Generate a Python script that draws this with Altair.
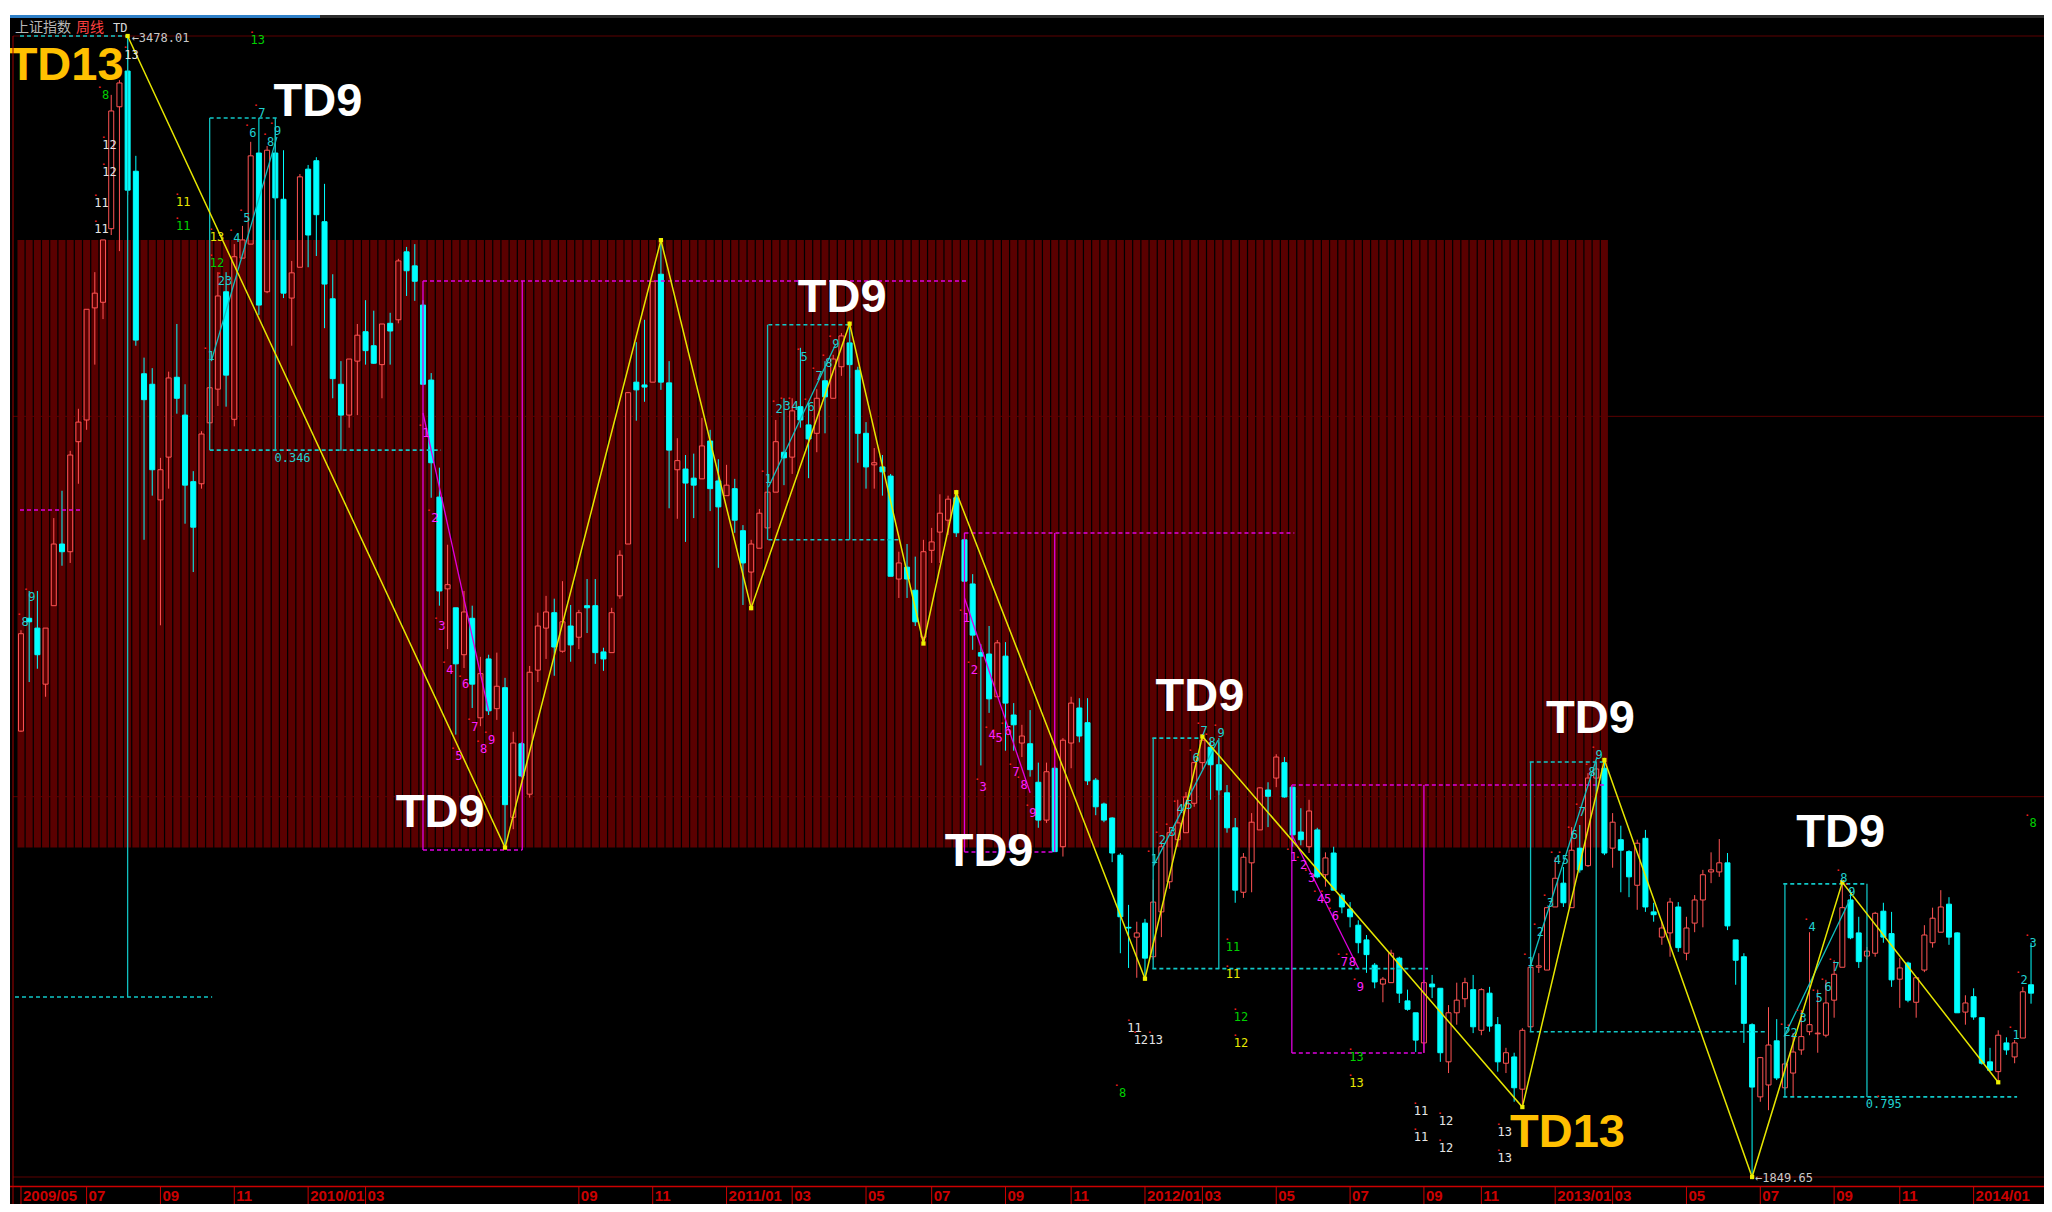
import altair as alt
import pandas as pd

# ---------------- weekly candles: 上证指数 周线 (index 0 = first week of 2009/05) ----------------
opens = [2486, 2647, 2633, 2553, 2665, 2753, 2742, 2899, 2930, 3090,
         3098, 3203, 3377, 3428, 3285, 2996, 2981, 2816, 2877, 2991,
         2937, 2842, 2839, 2926, 2974, 3113, 2931, 3161, 3181, 3311,
         3113, 3311, 3245, 3104, 3148, 3288, 3300, 3213, 3103, 2981,
         2937, 3014, 3056, 3036, 3009, 3068, 3073, 3170, 3150, 3094,
         2987, 2820, 2689, 2662, 2595, 2647, 2505, 2589, 2518, 2548,
         2363, 2468, 2396, 2573, 2633, 2655, 2600, 2636, 2620, 2665,
         2665, 2599, 2598, 2679, 2753, 2984, 2980, 2984, 3138, 2983,
         2859, 2860, 2847, 2846, 2900, 2843, 2822, 2832, 2772, 2713,
         2747, 2776, 2827, 2884, 2877, 2949, 2923, 2911, 2986, 2961,
         3006, 3040, 3001, 2911, 2866, 2863, 2850, 2703, 2720, 2687,
         2620, 2744, 2770, 2787, 2819, 2759, 2696, 2598, 2596, 2535,
         2593, 2509, 2469, 2468, 2413, 2359, 2433, 2321, 2469, 2519,
         2498, 2416, 2382, 2362, 2309, 2206, 2192, 2212, 2164, 2228,
         2271, 2331, 2341, 2383, 2441, 2463, 2438, 2398, 2348, 2256,
         2298, 2345, 2402, 2419, 2441, 2406, 2342, 2321, 2345, 2281,
         2312, 2252, 2232, 2209, 2188, 2152, 2125, 2127, 2162, 2101,
         2084, 2041, 2125, 2119, 2014, 2084, 2104, 2117, 2059, 2112,
         2067, 2012, 2021, 1975, 2064, 2149, 2145, 2235, 2269, 2234,
         2319, 2294, 2419, 2433, 2319, 2331, 2314, 2266, 2333, 2228,
         2192, 2198, 2235, 2169, 2212, 2245, 2285, 2285, 2298, 2188,
         2164, 2067, 1964, 1981, 2044, 1977, 1998, 2031, 2057, 2054,
         2052, 2102, 2149, 2245, 2198, 2165, 2169, 2229, 2197, 2132,
         2155, 2099, 2145, 2184, 2199, 2239, 2198, 2085, 2107, 2077,
         2014, 2000, 2041, 2021, 2048, 2124]
highs = [2630, 2686, 2686, 2633, 2790, 2829, 2886, 2946, 3088, 3141,
         3187, 3394, 3415, 3478.01, 3307, 3019, 3004, 2876, 2999, 3067,
         2981, 2857, 2914, 2987, 3141, 3141, 3181, 3207, 3327, 3361,
         3321, 3348, 3315, 3157, 3281, 3294, 3305, 3267, 3138, 3014,
         3017, 3067, 3101, 3086, 3067, 3083, 3160, 3177, 3181, 3101,
         2997, 2862, 2752, 2662, 2686, 2665, 2592, 2595, 2598, 2562,
         2485, 2470, 2579, 2655, 2679, 2675, 2700, 2666, 2659, 2703,
         2703, 2605, 2662, 2744, 2970, 3041, 3073, 3128, 3186.72, 3014,
         2904, 2880, 2882, 2933, 2916, 2874, 2866, 2846, 2780, 2759,
         2803, 2856, 2930, 2961, 2961, 3033, 2956, 2974, 3014, 3023,
         3054, 3067.46, 3006, 2927, 2890, 2880, 2853, 2742, 2753, 2735,
         2759, 2776, 2824, 2822, 2826.96, 2769, 2710, 2610, 2636, 2616,
         2613, 2526, 2495, 2516, 2441, 2441, 2436, 2476, 2535, 2533,
         2533, 2419, 2384, 2363, 2312, 2238, 2214, 2218, 2274, 2328,
         2349, 2388, 2399, 2442, 2478.38, 2470, 2470, 2409, 2362, 2312,
         2369, 2406, 2413, 2453, 2449, 2406, 2376, 2388, 2348, 2313,
         2321, 2255, 2242, 2216, 2195, 2155, 2135, 2174, 2164, 2117,
         2084, 2131, 2138, 2119, 2095, 2127, 2134, 2138, 2119, 2121,
         2078, 2034, 2027, 2062, 2149, 2169, 2234, 2306, 2292, 2349,
         2352, 2426, 2441, 2444.80, 2369, 2351, 2316, 2331, 2345, 2241,
         2214, 2248, 2242, 2221, 2252, 2288, 2313, 2332, 2312, 2188,
         2169, 2069, 2021, 2092, 2075, 2055, 2055, 2088, 2199, 2117,
         2131, 2159, 2270.27, 2259, 2221, 2178, 2228, 2241, 2228, 2162,
         2157, 2135, 2209, 2234, 2259, 2249, 2199, 2109, 2119, 2077,
         2034, 2059, 2049, 2045, 2121, 2184]
lows = [2485, 2556, 2575, 2535, 2665, 2722, 2726, 2839, 2916, 3009,
        3074, 3194, 3171, 3251, 3036, 2759, 2822, 2637, 2832, 2939,
        2782, 2713, 2832, 2916, 2950, 2949, 2921, 3161, 3181, 3080,
        3111, 3244, 3104, 3036, 3148, 3148, 3164, 3061, 2961, 2886,
        2919, 2937, 3009, 3010, 2961, 3009, 3068, 3107, 3100, 2981,
        2819, 2665, 2603, 2481, 2576, 2519, 2493, 2509, 2502, 2319.74,
        2346, 2420, 2391, 2556, 2589, 2565, 2598, 2585, 2603, 2626,
        2582, 2572, 2598, 2675, 2753, 2929, 2956, 2984, 2973, 2804,
        2789, 2756, 2790, 2846, 2800, 2719, 2822, 2769, 2666, 2661.45,
        2747, 2776, 2827, 2837, 2853, 2919, 2847, 2884, 2911, 2961,
        2993, 2990, 2869, 2832, 2832, 2822, 2707, 2676, 2676, 2636,
        2610.99, 2726, 2726, 2766, 2763, 2700, 2602, 2437, 2512, 2535,
        2458, 2458, 2449, 2421, 2348, 2355, 2314, 2307, 2433, 2470,
        2409, 2366, 2356, 2299, 2169, 2148, 2134, 2132.63, 2160, 2192,
        2261, 2321, 2341, 2378, 2431, 2388, 2395, 2341, 2241, 2248,
        2256, 2345, 2349, 2406, 2391, 2321, 2323, 2312, 2276, 2264,
        2259, 2226, 2206, 2169, 2141, 2119, 2099, 2127, 2098, 2087,
        2028, 2027, 2105, 2014, 1998, 2067, 2092, 2055, 2052, 2057,
        2000, 1998, 1957, 1949.46, 2057, 2141, 2145, 2235, 2235, 2234,
        2284, 2292, 2408, 2309, 2291, 2256, 2249, 2231, 2228, 2214,
        2181, 2164, 2171, 2159, 2199, 2206, 2269, 2278, 2202, 2124,
        2041, 1849.65, 1957, 1945, 1988, 1974, 1964, 2024, 2052, 2027,
        2049, 2077, 2149, 2189, 2148, 2160, 2164, 2184, 2121, 2091,
        2099, 2077, 2142, 2177, 2199, 2181, 2084, 2067, 2074, 2010,
        2000, 1984.8, 2024, 2012, 2048, 2097]
closes = [2625, 2642, 2595, 2633, 2753, 2742, 2880, 2927, 3088, 3111,
          3187, 3371, 3411, 3258, 3044, 2959, 2859, 2859, 2990, 2961,
          2837, 2777, 2910, 2976, 3107, 2994, 3163, 3187, 3307, 3094,
          3315, 3247, 3111, 3140, 3277, 3194, 3223, 3124, 2989, 2937,
          3017, 3051, 3029, 3011, 3067, 3057, 3157, 3143, 3128, 2981,
          2869, 2686, 2695, 2582, 2656, 2553, 2568, 2515, 2550, 2381,
          2469, 2422, 2570, 2636, 2656, 2606, 2642, 2609, 2655, 2662,
          2598, 2589, 2655, 2737, 2969, 2973, 2977, 3128, 2984, 2887,
          2872, 2840, 2837, 2893, 2832, 2806, 2837, 2787, 2726, 2753,
          2797, 2827, 2899, 2876, 2943, 2930, 2903, 2961, 2963, 3017,
          3050, 3009, 2911, 2863, 2869, 2856, 2707, 2726, 2703, 2642,
          2742, 2756, 2797, 2817, 2769, 2700, 2623, 2593, 2532, 2612,
          2526, 2495, 2479, 2431, 2359, 2428, 2314, 2473, 2526, 2479,
          2415, 2378, 2359, 2312, 2221, 2205, 2198, 2162, 2242, 2321,
          2341, 2355, 2392, 2441, 2473, 2438, 2402, 2348, 2259, 2306,
          2356, 2405, 2393, 2449, 2392, 2338, 2331, 2372, 2278, 2305,
          2259, 2235, 2221, 2184, 2167, 2128, 2132, 2169, 2112, 2089,
          2045, 2127, 2121, 2027, 2084, 2102, 2127, 2064, 2117, 2065,
          2014, 2027, 1977, 2059, 2149, 2151, 2234, 2276, 2241, 2316,
          2288, 2419, 2432, 2312, 2356, 2316, 2278, 2326, 2235, 2224,
          2205, 2242, 2177, 2205, 2245, 2281, 2288, 2298, 2208, 2159,
          2069, 1978, 2020, 2038, 1991, 2011, 2028, 2050, 2067, 2055,
          2098, 2139, 2234, 2191, 2157, 2172, 2226, 2192, 2131, 2148,
          2102, 2134, 2195, 2219, 2235, 2192, 2084, 2098, 2078, 2012,
          2002, 2052, 2031, 2041, 2114, 2112]

# bottom time axis (first week of each labelled month)
tick_idx = [0, 8, 17, 26, 35, 42, 68, 77, 86, 94, 103, 111, 120, 128, 137,
            144, 153, 162, 171, 178, 187, 194, 203, 212, 221, 229, 238]
tick_lab = ["2009/05", "07", "09", "11", "2010/01", "03", "09", "11", "2011/01", "03",
            "05", "07", "09", "11", "2012/01", "03", "05", "07", "09", "11",
            "2013/01", "03", "05", "07", "09", "11", "2014/01"]

# zig-zag pivots (candle index, high/low)
pivot_idx = [13, 59, 78, 89, 101, 110, 114, 137, 144, 183, 193, 211, 222, 241]
pivot_hl = ["H", "L", "H", "L", "H", "L", "H", "L", "H", "L", "H", "L", "H", "L"]

# shaded band (2010 range)
shade_lo = 2319.74
shade_hi = 3186.72
shade_last = 193

grid_prices = [3478.01, 2935.22, 2392.43, 1849.65]

# TD lines: solid (verticals and setup trend lines)
sol_kind = ["c"] * 16 + ["m"] * 9
sol_x1 = [13, 23, 31, 91, 101, 138, 146, 184, 192, 215, 225, 23.2, 91.1, 138, 183.9, 214.9,
          49, 61.1, 115, 126, 154.9, 171, 49, 115, 154.9]
sol_p1 = [3478.01, 3361, 3361, 3066, 3066, 2476, 2476, 2442, 2442, 2268, 2268, 3014, 2834, 2293, 2148, 2050,
          3128.4, 3128.4, 2768.7, 2768.7, 2409.1, 2409.1, 2940, 2676, 2338]
sol_x2 = [13, 23, 31, 91, 101, 138, 146, 184, 192, 215, 225, 31.2, 99.3, 145.9, 192.1, 222.9,
          49, 61.1, 115, 126, 154.9, 171, 57, 123, 163]
sol_p2 = [2106.6, 2887, 2887, 2759, 2759, 2147, 2147, 2057, 2057, 1964, 1964, 3334, 3038, 2473, 2449, 2245,
          2316.3, 2316.3, 2313.5, 2313.5, 2026.6, 2026.6, 2515, 2398, 2148]

# TD lines: dashed horizontals
dsh_kind = ["c"] * 12 + ["m"] * 7
dsh_x1 = [-0.12, -0.73, 23, 23, 91.1, 91.1, 137.9, 137.9, 183.9, 183.9, 214.8, 214.8,
          -0.12, 49, 49, 115, 115, 154.9, 154.9]
dsh_x2 = [13, 23.3, 31.2, 51.2, 100.9, 107, 144, 171.5, 193, 212.6, 225, 243.3,
          7.4, 115.2, 61.1, 155.2, 126, 193, 171]
dsh_p = [3478.01, 2106.6, 3361, 2887, 3066, 2759, 2476, 2147, 2442, 2057, 2268, 1964,
         2801.6, 3128.4, 2316.3, 2768.7, 2313.5, 2409.1, 2026.6]

# small TD count labels
cnt_text = ["13", "8", "12", "12", "13", "7", "6", "8", "9", "11", "11", "11", "11", "13", "12", "23", "4", "5", "1",
            "9", "8",
            "1", "2", "3", "4", "5", "6", "7", "8", "9",
            "1", "2", "3", "4", "5", "6", "7", "8", "9",
            "1", "2", "3", "4", "5", "6", "7", "8", "9",
            "1", "2", "3", "4", "5", "6", "7", "8", "9",
            "11", "11", "12", "12", "11", "12", "13", "8",
            "1", "2", "3", "4", "5", "6", "7", "8", "9", "13", "13",
            "11", "11", "12", "12", "13", "13",
            "1", "2", "3", "4", "5", "6", "7", "8", "9",
            "2", "2", "3", "4", "5", "6", "7", "8", "9",
            "1", "2", "3", "8", "0.346", "0.795"]
cnt_x = [13.46, 10.31, 10.79, 10.79, 28.87, 29.35, 28.26, 30.44, 31.29, 9.82, 9.82, 19.77, 19.77, 23.89, 23.89, 24.86, 26.32, 27.53, 23.17,
         1.33, 0.49,
         49.36, 50.45, 51.30, 52.27, 53.37, 54.21, 55.31, 56.40, 57.37,
         91.09, 92.42, 93.39, 94.36, 95.45, 96.30, 97.27, 98.48, 99.33,
         115.22, 116.19, 117.28, 118.37, 119.22, 120.32, 121.29, 122.26, 123.35,
         138.14, 139.11, 140.33, 141.30, 142.39, 143.24, 144.21, 145.18, 146.27,
         147.73, 147.73, 148.70, 148.70, 135.72, 136.5, 138.3, 134.26,
         155.12, 156.34, 157.31, 158.40, 159.25, 160.22, 161.31, 162.28, 163.25, 162.77, 162.77,
         170.65, 170.65, 173.68, 173.68, 180.84, 180.84,
         183.99, 185.20, 186.42, 187.27, 188.24, 189.33, 190.30, 191.51, 192.36,
         215.28, 216.13, 217.22, 218.31, 219.16, 220.26, 221.23, 222.20, 223.17,
         243.18, 244.15, 245.24, 245.24, 33.1, 227.05]
cnt_p = [3450.9, 3393.8, 3322.5, 3283.9, 3472.3, 3368.1, 3339.6, 3326.7, 3342.4, 3239.7, 3202.6, 3241.1, 3206.9, 3191.2, 3154.1, 3128.4, 3189.7, 3218.3, 3021.3,
         2677.4, 2641.7,
         2911.4, 2790.1, 2636.0, 2573.2, 2450.5, 2553.2, 2491.9, 2460.5, 2473.3,
         2845.8, 2945.7, 2950.0, 2950.0, 3019.9, 2948.5, 2992.8, 3011.3, 3038.5,
         2647.4, 2573.2, 2406.2, 2480.4, 2476.2, 2486.1, 2427.6, 2409.1, 2369.1,
         2303.5, 2330.6, 2342.0, 2374.8, 2380.6, 2447.6, 2486.1, 2470.5, 2483.3,
         2177.9, 2139.4, 2078.0, 2040.9, 2062.3, 2045.2, 2045.2, 1969.6,
         2306.3, 2294.9, 2276.4, 2246.4, 2246.4, 2222.1, 2156.5, 2156.5, 2120.8, 2020.9, 1983.8,
         1943.8, 1906.7, 1929.6, 1891.0, 1913.8, 1876.8,
         2156.5, 2199.3, 2240.7, 2302.0, 2302.0, 2337.7, 2370.5, 2427.6, 2451.9,
         2056.6, 2055.2, 2076.6, 2206.5, 2105.1, 2120.8, 2149.4, 2276.4, 2256.4,
         2052.3, 2130.8, 2183.6, 2354.9, 2875.8, 1953.8]
cnt_k = ["w", "g", "w", "w", "g", "c", "c", "c", "c", "w", "w", "y", "g", "y", "g", "c", "c", "c", "c",
         "c", "c",
         "m", "m", "m", "m", "m", "m", "m", "m", "m",
         "c", "c", "c", "c", "c", "c", "c", "c", "c",
         "m", "m", "m", "m", "m", "m", "m", "m", "m",
         "c", "c", "c", "c", "c", "c", "c", "c", "c",
         "g", "y", "g", "y", "w", "w", "w", "g",
         "m", "m", "m", "m", "m", "m", "m", "m", "m", "g", "y",
         "w", "w", "w", "w", "w", "w",
         "c", "c", "c", "c", "c", "c", "c", "c", "c",
         "c", "c", "c", "c", "c", "c", "c", "c", "c",
         "c", "c", "c", "g", "c", "c"]

# big annotations
big_text = ["TD13", "TD9", "TD9", "TD9", "TD9", "TD9", "TD9", "TD9", "TD13"]
big_x = [5.5, 36.2, 51.1, 100.1, 118.0, 143.7, 191.3, 221.8, 188.5]
big_p = [3435, 3384, 2369, 3104, 2314, 2535, 2503, 2341, 1912]
big_k = ["o", "w", "w", "w", "w", "w", "w", "w", "o"]

# ---------------- styling ----------------
RED = "#ff5454"
CYAN = "#00ffff"
AX_RED = "#cc0000"
W, H = 2034, 1169
xs = alt.Scale(domain=[-0.728, 245.97], nice=False, zero=False)
ys = alt.Scale(domain=[1835.38, 3503.70], nice=False, zero=False)


def X(f):
    return alt.X(f"{f}:Q", scale=xs, axis=None, title=None)


def Y(f):
    return alt.Y(f"{f}:Q", scale=ys, axis=None, title=None)


df = pd.DataFrame({"i": range(len(opens)), "o": opens, "h": highs, "l": lows, "c": closes})
df["top"] = df[["o", "c"]].max(axis=1)
df["bot"] = df[["o", "c"]].min(axis=1)
up = "datum.c >= datum.o"

one = pd.DataFrame({"a": [0]})
frame = alt.layer(
    alt.Chart(one).mark_rect(color="white").encode(x=alt.value(-2), x2=alt.value(W), y=alt.value(-10), y2=alt.value(-3)),
    alt.Chart(one).mark_rect(color="white").encode(x=alt.value(-2), x2=alt.value(0), y=alt.value(-10), y2=alt.value(H + 17)),
    alt.Chart(one).mark_rect(color="#2f80c8").encode(x=alt.value(0), x2=alt.value(310), y=alt.value(-3), y2=alt.value(0)),
    alt.Chart(one).mark_rect(color="#2c2c2c").encode(x=alt.value(310), x2=alt.value(W), y=alt.value(-3), y2=alt.value(0)),
    alt.Chart(one).mark_rule(color="#a00000").encode(x=alt.value(3), y=alt.value(18), y2=alt.value(H + 17)),
    alt.Chart(one).mark_rule(color=AX_RED, strokeWidth=1.5).encode(x=alt.value(0), x2=alt.value(W),
                                                                   y=alt.value(H - 0.5)),
)

# time axis drawn as ticks + labels below the plot
tick_df = pd.DataFrame({"i": tick_idx, "t": tick_lab})
ax_ticks = alt.Chart(tick_df).mark_rule(color=AX_RED, strokeWidth=1).encode(
    x=X("i"), y=alt.value(H - 0.5), y2=alt.value(H + 17))
ax_labels = alt.Chart(tick_df).mark_text(font="Liberation Sans", fontWeight="bold", fontSize=15,
                                         color=AX_RED, align="left", baseline="bottom", dx=2).encode(
    x=X("i"), y=alt.value(H + 16.5), text="t:N")

shade_df = pd.DataFrame({"i": range(shade_last + 1), "lo": shade_lo, "hi": shade_hi})
shade = alt.Chart(shade_df).mark_bar(size=7, color="#5a0000").encode(x=X("i"), y=Y("lo"), y2="hi")

grid = alt.Chart(pd.DataFrame({"p": grid_prices})).mark_rule(color="#5c0000", strokeWidth=1).encode(
    x=alt.value(3), x2=alt.value(W), y=Y("p"))

color_cond = alt.condition(up, alt.value(RED), alt.value(CYAN))
wick_hi = alt.Chart(df).mark_rule(strokeWidth=1).encode(x=X("i"), y=Y("h"), y2="top", color=color_cond)
wick_lo = alt.Chart(df).mark_rule(strokeWidth=1).encode(x=X("i"), y=Y("bot"), y2="l", color=color_cond)
body = alt.Chart(df).mark_bar(size=5, strokeWidth=1).encode(
    x=X("i"), y=Y("o"), y2="c",
    fill=alt.condition(up, alt.value("transparent"), alt.value(CYAN)),
    stroke=color_cond)

sol_df = pd.DataFrame({"sk": sol_kind, "x1": sol_x1, "p1": sol_p1, "x2": sol_x2, "p2": sol_p2})
solid = alt.Chart(sol_df).mark_rule(strokeWidth=1.3).encode(
    x=X("x1"), y=Y("p1"), x2="x2", y2="p2",
    color=alt.Color("sk:N", scale=alt.Scale(domain=["c", "m"], range=["#10c0c0", "#e000e0"]), legend=None))
dsh_df = pd.DataFrame({"dk": dsh_kind, "x1": dsh_x1, "x2": dsh_x2, "p": dsh_p})
dashed = alt.Chart(dsh_df).mark_rule(strokeWidth=1.6, strokeDash=[4, 3]).encode(
    x=X("x1"), x2="x2", y=Y("p"),
    color=alt.Color("dk:N", scale=alt.Scale(domain=["c", "m"], range=["#10c8c8", "#e000e0"]), legend=None))

piv_df = pd.DataFrame({"i": pivot_idx,
                       "p": [highs[i] if k == "H" else lows[i] for i, k in zip(pivot_idx, pivot_hl)]})
zig = alt.Chart(piv_df).mark_line(color="#e6e600", strokeWidth=1.5).encode(x=X("i"), y=Y("p"))
zig_pts = alt.Chart(piv_df).mark_square(color="#f0f000", size=18, opacity=1).encode(x=X("i"), y=Y("p"))

cnt_df = pd.DataFrame({"t": cnt_text, "x": cnt_x, "p": cnt_p, "ck": cnt_k})
counts = alt.Chart(cnt_df).mark_text(font="DejaVu Sans Mono", fontSize=12, align="center", baseline="middle").encode(
    x=X("x"), y=Y("p"), text="t:N",
    color=alt.Color("ck:N", scale=alt.Scale(domain=["w", "g", "y", "c", "m"],
                                            range=["#e6e6e6", "#00d000", "#e8e800", "#20d0d0", "#ff20ff"]),
                    legend=None))
dots = alt.Chart(cnt_df).mark_text(text="▪", fontSize=6, color="#ff2020", dx=-6, dy=-8).encode(x=X("x"), y=Y("p"))

big_df = pd.DataFrame({"t": big_text, "x": big_x, "p": big_p, "bk": big_k})
big = alt.Chart(big_df).mark_text(font="Liberation Sans", fontWeight="bold", fontSize=47,
                                  align="center", baseline="middle").encode(
    x=X("x"), y=Y("p"), text="t:N",
    color=alt.Color("bk:N", scale=alt.Scale(domain=["o", "w"], range=["#ffc000", "#ffffff"]), legend=None))

hi_lab = alt.Chart(piv_df.iloc[[0]]).mark_text(font="DejaVu Sans Mono", fontSize=12, color="#c8c8c8",
                                                align="left", baseline="middle", dx=4, dy=2).encode(
    x=X("i"), y=Y("p"), text=alt.value("←3478.01"))
lo_lab = alt.Chart(piv_df.iloc[[11]]).mark_text(font="DejaVu Sans Mono", fontSize=12, color="#c8c8c8",
                                                 align="left", baseline="middle", dx=3, dy=1).encode(
    x=X("i"), y=Y("p"), text=alt.value("←1849.65"))

header = alt.layer(
    alt.Chart(one).mark_text(text="上证指数", font="Noto Sans CJK SC", fontSize=14, color="#b8b8b8",
                             align="left", baseline="middle").encode(x=alt.value(5), y=alt.value(10)),
    alt.Chart(one).mark_text(text="周线", font="Noto Sans CJK SC", fontSize=14, color="#ff4040",
                             align="left", baseline="middle").encode(x=alt.value(66), y=alt.value(10)),
    alt.Chart(one).mark_text(text="TD", font="DejaVu Sans Mono", fontSize=12, color="#d8d8d8",
                             align="left", baseline="middle").encode(x=alt.value(103), y=alt.value(10)),
)

chart = alt.layer(
    shade, grid, wick_hi, wick_lo, body, dashed, solid, zig, zig_pts,
    dots, counts, hi_lab, lo_lab, big, frame, ax_ticks, ax_labels, header
).resolve_scale(color="independent").properties(
    width=W, height=H,
    padding={"left": 2, "top": 10, "right": 0, "bottom": 17},
    autosize=alt.AutoSizeParams(type="none"),
    background="#000000",
).configure_view(stroke=None)

chart.save("out.html", embed_options={"renderer": "svg", "actions": False})
